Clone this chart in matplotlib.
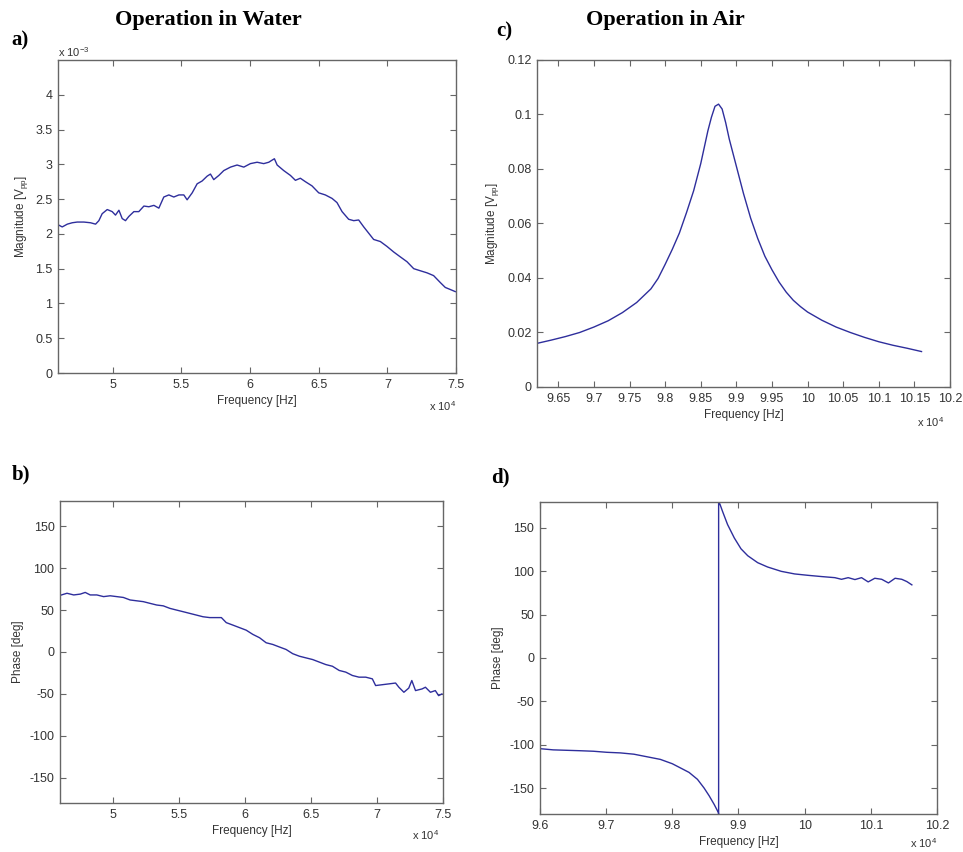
import matplotlib
matplotlib.use('Agg')
import matplotlib.pyplot as plt
from matplotlib.ticker import FuncFormatter, MultipleLocator

# frequencies in units of 1e4 Hz (as on the axes), magnitude a) in units of 1e-3 Vpp
freq_water_mag = [4.602, 4.631, 4.668, 4.704, 4.740, 4.789, 4.837, 4.874, 4.898, 4.922,
                  4.959, 4.995, 5.019, 5.044, 5.068, 5.092, 5.116, 5.153, 5.189, 5.226,
                  5.262, 5.299, 5.335, 5.371, 5.408, 5.444, 5.481, 5.517, 5.541, 5.578,
                  5.614, 5.650, 5.687, 5.711, 5.735, 5.772, 5.808, 5.857, 5.905, 5.954,
                  6.002, 6.051, 6.099, 6.136, 6.160, 6.177, 6.197, 6.245, 6.294, 6.330,
                  6.366, 6.403, 6.451, 6.500, 6.548, 6.597, 6.633, 6.670, 6.718, 6.755,
                  6.791, 6.828, 6.864, 6.900, 6.949, 6.997, 7.046, 7.094, 7.143, 7.192,
                  7.240, 7.289, 7.337, 7.386, 7.422, 7.459, 7.495]
mag_water = [2.13, 2.10, 2.14, 2.16, 2.17, 2.17, 2.16, 2.14, 2.19, 2.29,
             2.35, 2.32, 2.27, 2.34, 2.22, 2.19, 2.25, 2.32, 2.32, 2.40,
             2.39, 2.41, 2.37, 2.53, 2.56, 2.53, 2.56, 2.56, 2.49, 2.59,
             2.72, 2.76, 2.83, 2.86, 2.78, 2.84, 2.91, 2.96, 2.99, 2.96,
             3.01, 3.03, 3.01, 3.03, 3.06, 3.08, 2.99, 2.91, 2.84, 2.77,
             2.80, 2.75, 2.69, 2.59, 2.56, 2.51, 2.45, 2.32, 2.21, 2.19,
             2.20, 2.10, 2.01, 1.92, 1.89, 1.82, 1.74, 1.67, 1.60, 1.50,
             1.47, 1.44, 1.40, 1.30, 1.23, 1.20, 1.17]

freq_water_ph = [4.611, 4.653, 4.704, 4.754, 4.791, 4.829, 4.879, 4.930, 4.980, 5.030,
                 5.080, 5.131, 5.181, 5.231, 5.281, 5.332, 5.382, 5.432, 5.482, 5.533,
                 5.583, 5.633, 5.683, 5.734, 5.784, 5.822, 5.859, 5.910, 5.960, 6.010,
                 6.060, 6.111, 6.161, 6.211, 6.261, 6.312, 6.362, 6.412, 6.462, 6.513,
                 6.563, 6.613, 6.663, 6.714, 6.764, 6.814, 6.864, 6.915, 6.965, 6.990,
                 7.040, 7.091, 7.141, 7.166, 7.204, 7.241, 7.264, 7.292, 7.342, 7.367,
                 7.405, 7.442, 7.467, 7.492]
phase_water = [68, 70, 68, 69, 71, 68, 68, 66, 67, 66,
               65, 62, 61, 60, 58, 56, 55, 52, 50, 48,
               46, 44, 42, 41, 41, 41, 35, 32, 29, 26,
               21, 17, 11, 9, 6, 3, -2, -5, -7, -9,
               -12, -15, -17, -22, -24, -28, -30, -30, -32, -40,
               -39, -38, -37, -42, -48, -43, -34, -46, -44, -42,
               -48, -46, -52, -50]

freq_air_mag = [9.62, 9.64, 9.66, 9.68, 9.70, 9.72, 9.74, 9.76, 9.78, 9.79,
                9.80, 9.81, 9.82, 9.83, 9.84, 9.85, 9.86, 9.865, 9.87, 9.875,
                9.88, 9.885, 9.89, 9.90, 9.91, 9.92, 9.93, 9.94, 9.95, 9.96,
                9.97, 9.98, 9.99, 10.00, 10.02, 10.04, 10.06, 10.08, 10.10, 10.12,
                10.14, 10.16]
mag_air = [0.0160, 0.0172, 0.0185, 0.0200, 0.0220, 0.0243, 0.0273, 0.0310, 0.0360, 0.0398,
           0.0450, 0.0505, 0.0565, 0.0640, 0.0720, 0.0820, 0.0940, 0.0990, 0.1030, 0.1038,
           0.1020, 0.0970, 0.0910, 0.0810, 0.0710, 0.0620, 0.0545, 0.0480, 0.0430, 0.0385,
           0.0348, 0.0318, 0.0295, 0.0275, 0.0245, 0.0220, 0.0200, 0.0182, 0.0166, 0.0153,
           0.0142, 0.0130]

freq_air_ph = [9.600, 9.620, 9.6405, 9.661, 9.681, 9.701, 9.7215, 9.742, 9.762, 9.782,
               9.800, 9.8127, 9.8253, 9.838, 9.848, 9.8557, 9.8633, 9.8694, 9.870, 9.870,
               9.872, 9.876, 9.8835, 9.8937, 9.9038, 9.914, 9.929, 9.944, 9.9646, 9.9848,
               10.005, 10.025, 10.0456, 10.0557, 10.0658, 10.076, 10.086, 10.096, 10.106, 10.1165,
               10.1266, 10.1367, 10.1468, 10.1544, 10.162]
phase_air = [-104.6, -106, -106.5, -107, -107.6, -108.8, -109.5, -111, -114, -117,
             -122, -127, -132, -140, -150, -159, -169, -178, -180, 180,
             177.5, 169, 154, 138.5, 126, 118, 110, 105, 100, 97,
             95.4, 94, 92.7, 90.8, 92.7, 90.5, 92.7, 87.8, 92, 90.8,
             86.6, 92, 90.8, 88.2, 84.4]

plt.rcParams['font.family'] = ['Liberation Sans', 'DejaVu Sans']
plt.rcParams['font.size'] = 9

line_col = '#2e2e9c'
edge_col = '#666666'
text_col = '#333333'

fig = plt.figure(figsize=(9.63, 8.52), dpi=100)
ax_a = fig.add_axes([0.0602, 0.5622, 0.4133, 0.3674])
ax_c = fig.add_axes([0.5576, 0.5458, 0.4289, 0.3838])
ax_b = fig.add_axes([0.0623, 0.0575, 0.3977, 0.3545])
ax_d = fig.add_axes([0.5607, 0.0446, 0.4123, 0.3662])

fmt = FuncFormatter(lambda v, p: '%g' % round(v, 6))


def style(ax):
    for s in ax.spines.values():
        s.set_color(edge_col)
        s.set_linewidth(1.0)
    ax.tick_params(direction='in', top=True, right=True, length=4, width=0.8,
                   color=edge_col, labelcolor=text_col, labelsize=9, pad=4)
    ax.xaxis.set_major_formatter(fmt)
    ax.yaxis.set_major_formatter(fmt)
    ax.set_xlabel('Frequency [Hz]', color=text_col, fontsize=8.5, labelpad=3)


def mult(ax, txt, x, y, ha):
    ax.annotate(txt, xy=(x, 0 if y < 0 else 1), xycoords='axes fraction',
                xytext=(0, y), textcoords='offset points', ha=ha, va='center',
                color=text_col, fontsize=8)


# a) magnitude in water
ax_a.plot(freq_water_mag, mag_water, color=line_col, lw=1.0)
ax_a.set_xlim(4.6, 7.5)
ax_a.set_ylim(0, 4.5)
ax_a.set_xticks([5, 5.5, 6, 6.5, 7, 7.5])
ax_a.set_yticks([0, 0.5, 1, 1.5, 2, 2.5, 3, 3.5, 4])
style(ax_a)
ax_a.set_ylabel('Magnitude [V$_\\mathregular{pp}$]', color=text_col, fontsize=8.5)
mult(ax_a, 'x 10$^\\mathregular{-3}$', 0, 6, 'left')
mult(ax_a, 'x 10$^\\mathregular{4}$', 1, -24, 'right')

# c) magnitude in air
ax_c.plot(freq_air_mag, mag_air, color=line_col, lw=1.0)
ax_c.set_xlim(9.62, 10.2)
ax_c.set_ylim(0, 0.12)
ax_c.xaxis.set_major_locator(MultipleLocator(0.05))
ax_c.yaxis.set_major_locator(MultipleLocator(0.02))
style(ax_c)
ax_c.set_ylabel('Magnitude [V$_\\mathregular{pp}$]', color=text_col, fontsize=8.5)
mult(ax_c, 'x 10$^\\mathregular{4}$', 0.985, -25, 'right')

# b) phase in water
ax_b.plot(freq_water_ph, phase_water, color=line_col, lw=1.0)
ax_b.set_xlim(4.6, 7.5)
ax_b.set_ylim(-180, 180)
ax_b.set_xticks([5, 5.5, 6, 6.5, 7, 7.5])
ax_b.set_yticks([-150, -100, -50, 0, 50, 100, 150])
style(ax_b)
ax_b.set_ylabel('Phase [deg]', color=text_col, fontsize=8.5)
mult(ax_b, 'x 10$^\\mathregular{4}$', 0.99, -23, 'right')

# d) phase in air
ax_d.plot(freq_air_ph, phase_air, color=line_col, lw=1.0)
ax_d.set_xlim(9.6, 10.2)
ax_d.set_ylim(-180, 180)
ax_d.xaxis.set_major_locator(MultipleLocator(0.1))
ax_d.set_yticks([-150, -100, -50, 0, 50, 100, 150])
style(ax_d)
ax_d.set_ylabel('Phase [deg]', color=text_col, fontsize=8.5)
mult(ax_d, 'x 10$^\\mathregular{4}$', 1, -21, 'right')

serif = dict(family='Liberation Serif', weight='bold', color='black')
fig.text(208 / 963, 1 - 20 / 852, 'Operation in Water', ha='center', va='center', fontsize=16, **serif)
fig.text(665 / 963, 1 - 20 / 852, 'Operation in Air', ha='center', va='center', fontsize=16, **serif)
fig.text(11 / 963, 1 - 40 / 852, 'a)', ha='left', va='center', fontsize=15, **serif)
fig.text(496 / 963, 1 - 31 / 852, 'c)', ha='left', va='center', fontsize=15, **serif)
fig.text(12 / 963, 1 - 474 / 852, 'b)', ha='left', va='center', fontsize=15, **serif)
fig.text(491 / 963, 1 - 477 / 852, 'd)', ha='left', va='center', fontsize=15, **serif)

fig.savefig('out.png', dpi=100)
